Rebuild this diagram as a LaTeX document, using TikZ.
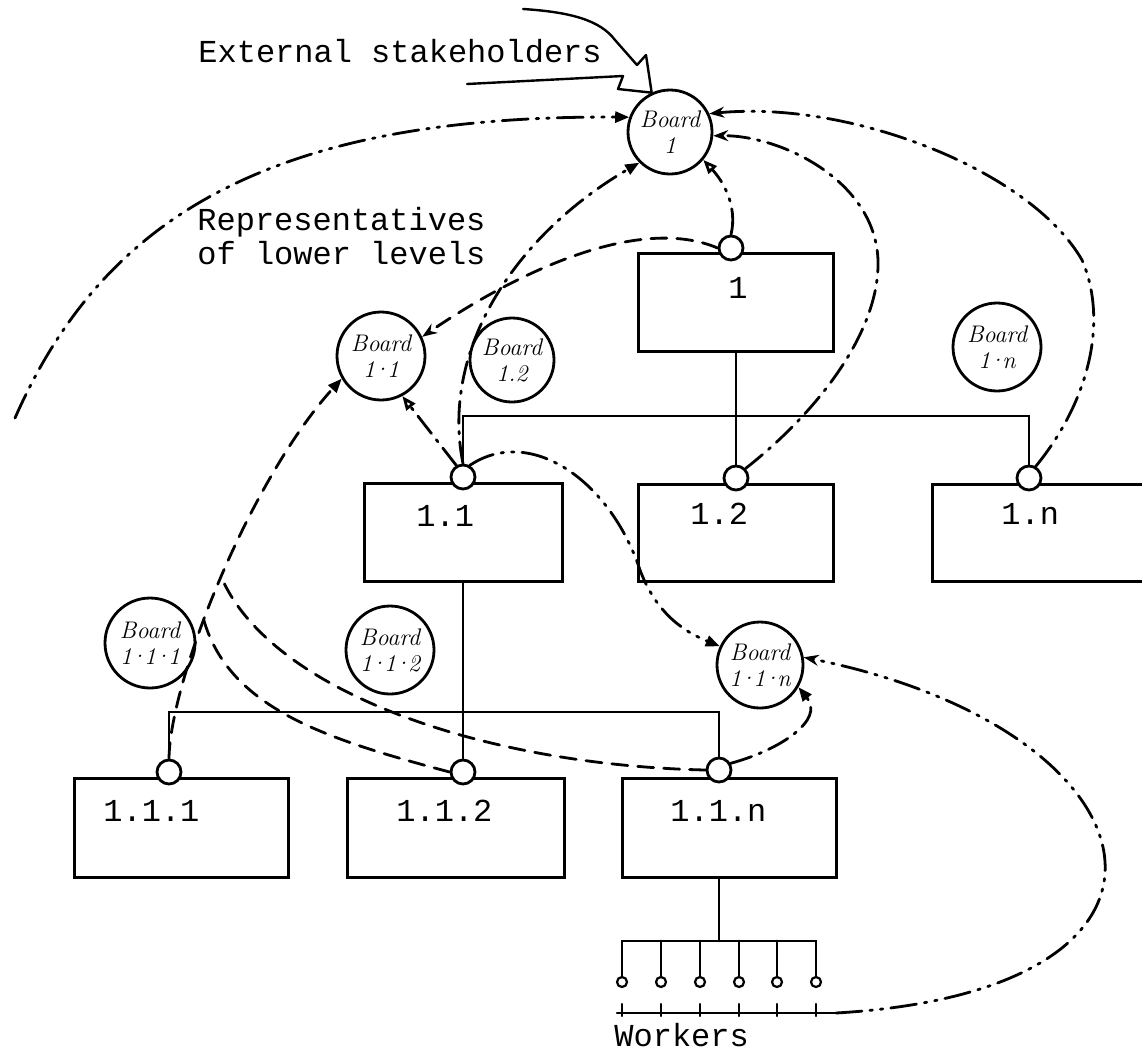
\documentclass[tikz,border=0pt]{standalone}
\usepackage{fontspec}
\setmonofont{Liberation Mono}
\usetikzlibrary{arrows.meta}
% compact middle dot for the board numbers
\newcommand\mdot{\kern-3pt·\kern-3pt}
\begin{document}
\begin{tikzpicture}[x=1pt,y=-1pt,
  line width=2.8pt, line cap=round,
  lbl/.style={font=\fontsize{32}{34}\selectfont\ttfamily, inner sep=0pt, anchor=base west},
  unitbox/.style={draw, line width=3pt, anchor=north west, inner sep=0pt},
  port/.style={draw, circle, fill=white, minimum size=24pt, inner sep=0pt, line width=2.8pt},
  board/.style={draw, circle, inner sep=0pt, line width=2.8pt, align=center,
    font=\fontsize{24}{26}\selectfont\itshape},
  worker/.style={draw, circle, minimum size=10pt, inner sep=0pt, line width=2.2pt},
  dashdotdot/.style={dash pattern=on 26pt off 8pt on 2.5pt off 8pt on 2.5pt off 8pt},
  dashdot/.style={dash pattern=on 22pt off 8pt on 2.5pt off 8pt},
  dashonly/.style={dash pattern=on 16pt off 10pt},
  headF/.style={-{Triangle[length=14pt,width=11pt]}},
  headO/.style={-{Triangle[open,length=14pt,width=11pt]}},
  headL/.style={-{Stealth[open,length=15pt,width=11pt]}},
]
\useasboundingbox (0,0) rectangle (1142,1053);

% organisational units
\node[unitbox, minimum width=195pt, minimum height=98pt] (b1)   at (637,252) {};
\node[unitbox, minimum width=198pt, minimum height=98pt] (b11)  at (363,482) {};
\node[unitbox, minimum width=195pt, minimum height=97pt] (b12)  at (637,483) {};
\node[unitbox, minimum width=230pt, minimum height=97pt] (b1n)  at (931,483) {};
\node[unitbox, minimum width=214pt, minimum height=99pt] (b111) at (73,777) {};
\node[unitbox, minimum width=217pt, minimum height=99pt] (b112) at (346,777) {};
\node[unitbox, minimum width=214pt, minimum height=99pt] (b11n) at (621,777) {};

\node[lbl] (t1)   at (727,298)  {1};
\node[lbl] (t11)  at (415,526)  {1.1};
\node[lbl] (t12)  at (689,524)  {1.2};
\node[lbl] (t1n)  at (1000,524) {1.n};
\node[lbl] (t111) at (102,821)  {1.1.1};
\node[lbl] (t112) at (395,821)  {1.1.2};
\node[lbl] (t11n) at (669,821)  {1.1.n};

% representative ports on the units
\coordinate (busA) at (0,416);
\coordinate (busB) at (0,712);
\coordinate (busW) at (719,941);
\path (731,248) coordinate (pp1) (463,477) coordinate (pp11) (736,478) coordinate (pp12)
      (1029,478) coordinate (pp1n) (169,772) coordinate (pp111) (463,772) coordinate (pp112)
      (719,770) coordinate (pp11n);

% hierarchy lines
\draw (b1.south -| pp12) -- (pp12);
\draw (pp11) -- (pp11 |- busA) -- (pp1n |- busA) -- (pp1n);
\draw (b11.south -| pp112) -- (pp112);
\draw (pp111) -- (pp111 |- busB) -- (pp11n |- busB) -- (pp11n);
\draw (b11n.south -| busW) -- (busW);

\foreach \n in {1,11,12,1n,111,112,11n} \node[port] (p\n) at (pp\n) {};

% workers
\foreach \i/\x in {1/622,2/661,3/700,4/739,5/777,6/816} \node[worker] (w\i) at (\x,982) {};
\draw (w1.north) -- (w1 |- busW) -- (w6 |- busW) -- (w6.north);
\foreach \i in {2,...,5} \draw (w\i.north) -- (w\i |- busW);
\coordinate (gl) at (617,1013);
\coordinate (gr) at (836,1013);
\draw[line width=2.2pt] (gl) -- (gr);
\foreach \i in {1,...,6} \draw[line width=2.2pt] (w\i |- gl) ++(0,-9) -- ++(0,12);
\node[lbl] (workers) at (613,1046) {Workers};

% boards
\node[board, minimum size=84pt] (bd1)   at (670,132) {Board\\1};
\node[board, minimum size=88pt] (bd11)  at (381,356) {Board\\1\mdot1};
\node[board, minimum size=84pt] (bd12)  at (512,360) {Board\\1.2};
\node[board, minimum size=88pt] (bd1n)  at (997,347) {Board\\1\mdot n};
\node[board, minimum size=90pt] (bd111) at (150,643) {Board\\1\mdot1\mdot1};
\node[board, minimum size=88pt] (bd112) at (390,650) {Board\\1\mdot1\mdot2};
\node[board, minimum size=86pt] (bd11n) at (760,665) {Board\\1\mdot1\mdot n};

% texts
\node[lbl] (ext) at (197,62) {External stakeholders};
\node[lbl, align=left] (reps) at (196,264) {Representatives\\of lower levels};

% external stakeholders arrow
\draw[line width=2.4pt, line join=round] (523,9) .. controls (570,12) and (600,20) .. (615,40)
  -- (637,65) -- (646,55) -- (bd1.115);
\draw[line width=2.4pt, line join=round] (467,84) -- (623,76) -- (618,89) -- (bd1.115);

% representation links
\coordinate (far) at (15,418);
\draw[dashdotdot, headF] (far) .. controls (100,225) and (260,115) .. (bd1.160);
\draw[dashdotdot, headO] (p1.north) .. controls (738,205) and (722,180) .. (bd1.-40);
\draw[dashonly, headL] (p1.west) .. controls (640,215) and (520,270) .. (bd11.25);
\draw[dashdot, headF] (p11.north) .. controls (440,350) and (515,235) .. (bd1.-135);
\draw[dashdot, headO] (p11.120) -- (bd11.-62);
\draw[dashdotdot, headF] (p11.60) .. controls (530,425) and (610,480) .. (640,570)
  .. controls (655,610) and (680,630) .. (bd11n.155);
\draw[dashdot, headL] (p12.45) .. controls (820,410) and (880,330) .. (878,260)
  .. controls (875,180) and (780,135) .. (bd1.-5);
\draw[dashdotdot, headL] (p1n.60) .. controls (1090,400) and (1108,320) .. (1082,260)
  .. controls (1030,170) and (850,100) .. (bd1.25);
\draw[dashonly, headF] (p111.north) .. controls (170,680) and (250,480) .. (bd11.-150)
  coordinate[pos=0.4] (jB) coordinate[pos=0.5] (jA);
\draw[dashonly] (p11n.west) .. controls (480,765) and (270,690) .. (jA);
\draw[dashonly] (p112.west) .. controls (330,740) and (230,710) .. (jB);
\draw[dashdot, headF] (p11n.30) .. controls (780,750) and (825,720) .. (bd11n.-30);
\draw[dashdotdot, headL] (gr) .. controls (1230,990) and (1165,730) .. (bd11n.10);
\end{tikzpicture}
\end{document}
